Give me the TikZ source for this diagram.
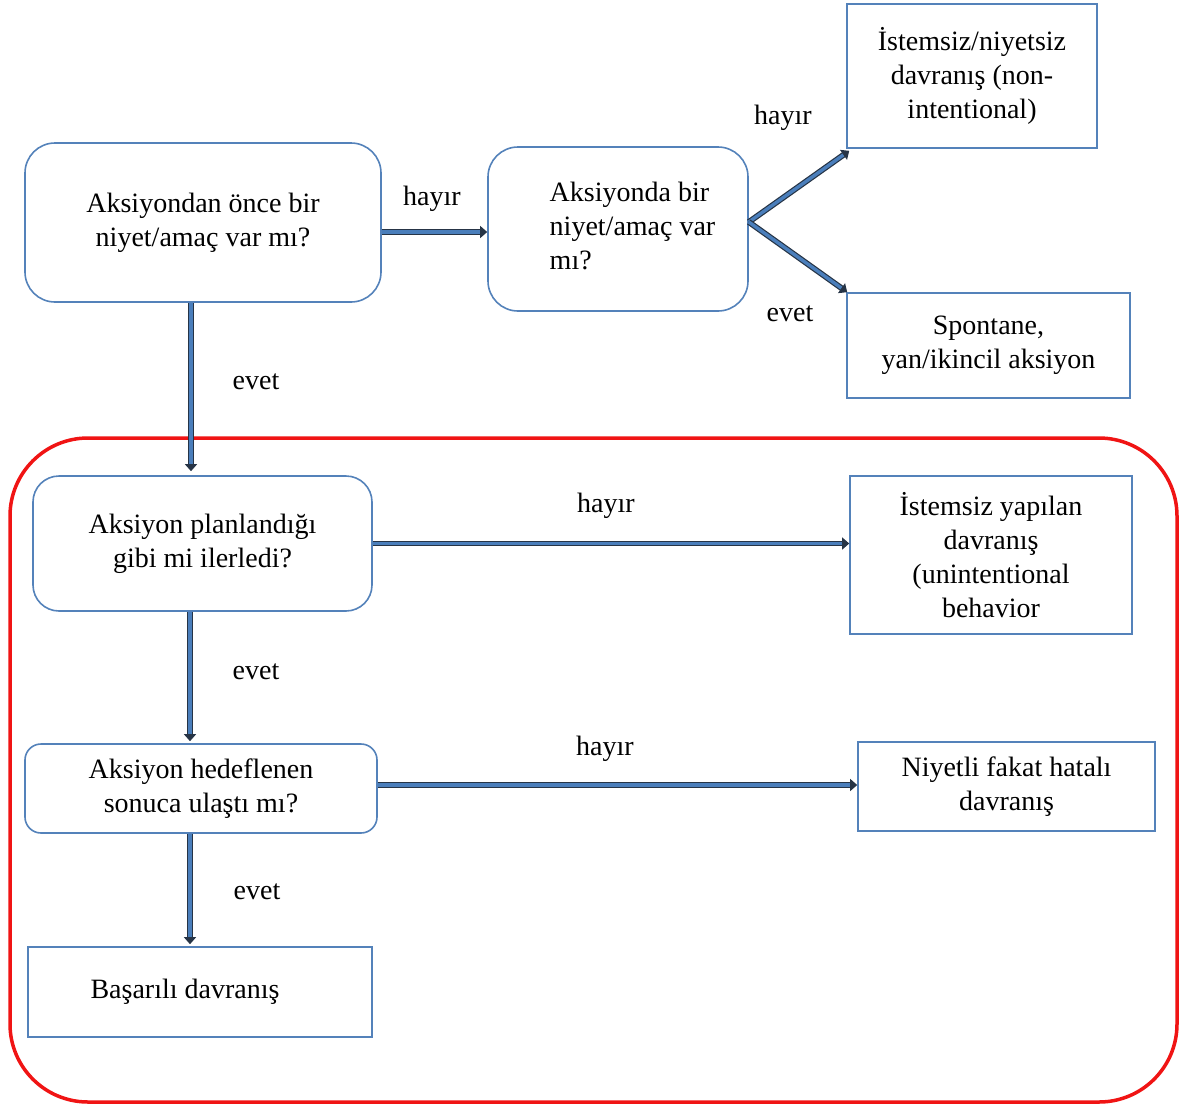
\documentclass[tikz,border=0pt]{standalone}
\usepackage{fontspec}
\setmainfont{Liberation Serif}
\usetikzlibrary{arrows.meta}
\definecolor{boxblue}{RGB}{84,130,186}
\definecolor{arrdark}{RGB}{38,52,70}
\definecolor{arrfill}{RGB}{74,126,187}
\definecolor{redframe}{RGB}{240,20,20}
\begin{document}
\begin{tikzpicture}[x=1pt,y=-1pt,
  font=\fontsize{28}{34}\selectfont,
  rbox/.style={draw=boxblue, line width=1.6pt, align=center, inner sep=0pt},
  sbox/.style={draw=boxblue, line width=1.6pt, align=center, inner sep=0pt},
  conn/.style={draw=arrdark, line width=1.2pt, double=arrfill, double distance=3.4pt, -{Triangle[length=7pt,width=12pt]}},
  lbl/.style={inner sep=0pt}]
\useasboundingbox (0,0) rectangle (1180,1106);

% red frame
\draw[redframe, line width=3.5pt, rounded corners=78pt] (10,438) rectangle (1177,1102);

% boxes
\node[rbox, rounded corners=30pt, minimum width=356pt, minimum height=159pt] (A) at (203,222.5) {Aksiyondan önce bir\\niyet/amaç var mı?};
\node[rbox, rounded corners=30pt, minimum width=260pt, minimum height=164pt] (B) at (618,229) {\hspace*{29pt}\begin{tabular}{@{}l@{}}Aksiyonda bir\\niyet/amaç var\\mı?\end{tabular}};
\node[sbox, minimum width=250pt, minimum height=144pt] (C) at (972,76) {İstemsiz/niyetsiz\\davranış (non-\\intentional)};
\node[sbox, minimum width=283pt, minimum height=105pt] (D) at (988.5,345.5) {Spontane,\\yan/ikincil aksiyon};
\node[rbox, rounded corners=26pt, minimum width=339pt, minimum height=135pt] (E) at (202.5,543.5) {Aksiyon planlandığı\\gibi mi ilerledi?};
\node[sbox, minimum width=282pt, minimum height=158pt] (F) at (991,555) {İstemsiz yapılan\\davranış\\(unintentional\\behavior};
\node[rbox, rounded corners=16pt, minimum width=352pt, minimum height=89pt] (G) at (201,788.5) {Aksiyon hedeflenen\\sonuca ulaştı mı?};
\node[sbox, minimum width=297pt, minimum height=89pt] (H) at (1006.5,786.5) {Niyetli fakat hatalı\\davranış};
\node[sbox, minimum width=344pt, minimum height=90pt] (I) at (200,992) {Başarılı davranış\hspace*{30pt}};

% connectors
\draw[conn] ([yshift=-9.5pt]A.east) -- ([yshift=-3pt]B.west);
\draw[conn] ([yshift=7pt]B.east) -- ([xshift=3pt,yshift=-2pt]C.south west);
\draw[conn] ([yshift=7pt]B.east) -- ([xshift=1pt]D.north west);
\draw[conn, shorten >=4pt] ([xshift=-12pt]A.south) -- ([xshift=-11.5pt]E.north);
\draw[conn] (E.east) -- ([yshift=11.5pt]F.west);
\draw[conn, shorten >=2pt] ([xshift=-12.5pt]E.south) -- ([xshift=-11pt]G.north);
\draw[conn] ([yshift=3.5pt]G.east) -- ([yshift=1.5pt]H.west);
\draw[conn, shorten >=2pt] ([xshift=-11pt]G.south) -- ([xshift=-10pt]I.north);

% labels
\node[lbl] (l1) at (432,199) {hayır};
\node[lbl] (l2) at (783,118) {hayır};
\node[lbl] (l3) at (790,314) {evet};
\node[lbl] (l4) at (256,382) {evet};
\node[lbl] (l5) at (606,506) {hayır};
\node[lbl] (l6) at (256,672) {evet};
\node[lbl] (l7) at (605,749) {hayır};
\node[lbl] (l8) at (257,892) {evet};
\end{tikzpicture}
\end{document}
